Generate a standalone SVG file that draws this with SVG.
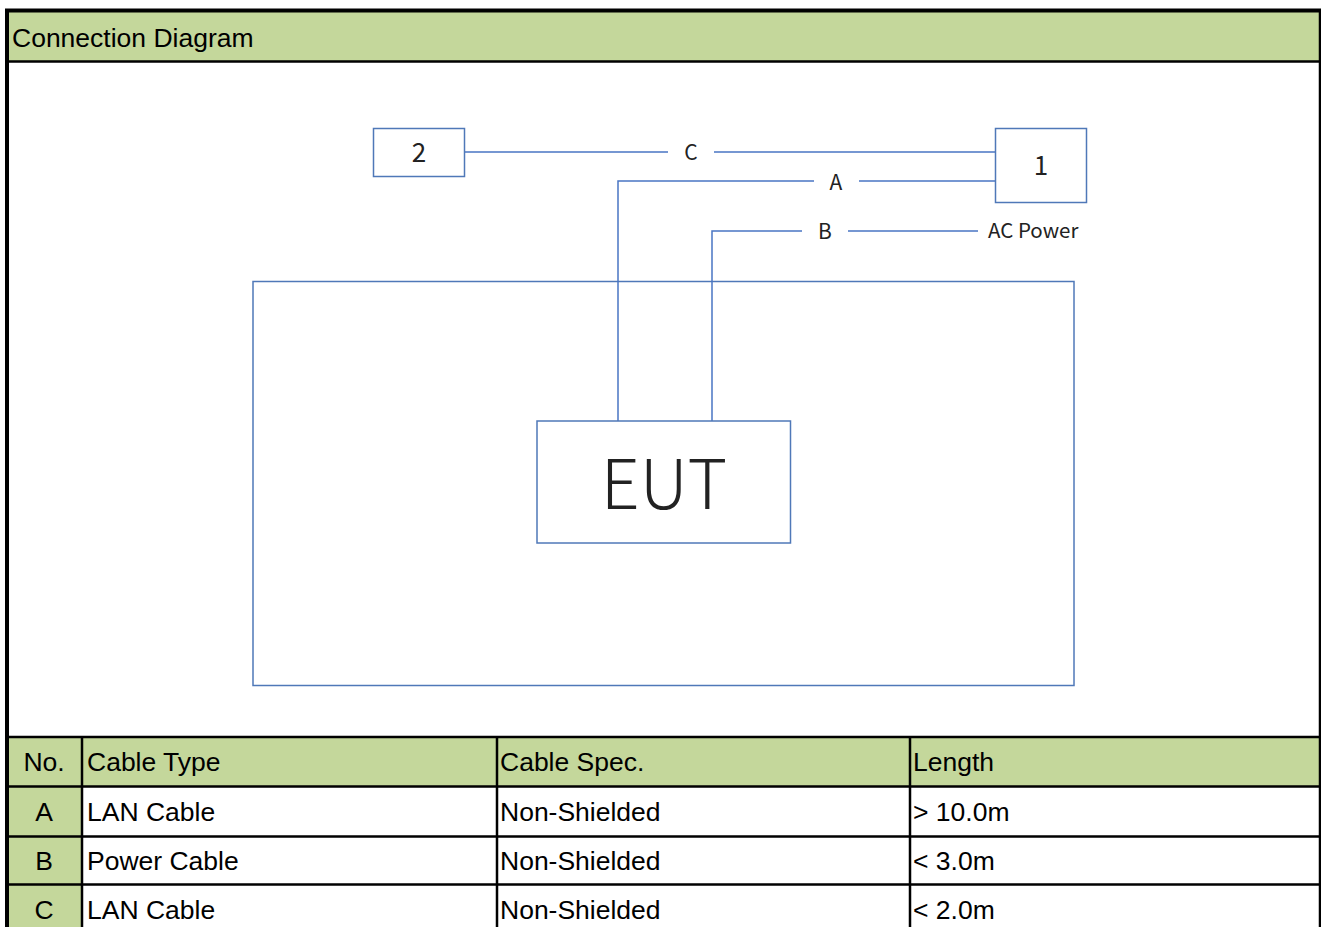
<svg xmlns="http://www.w3.org/2000/svg" width="1321" height="927" viewBox="0 0 1321 927">
<style>
.t{font-family:"Liberation Sans",Arial,sans-serif;font-size:26.5px;fill:#000}
.d{font-family:"Noto Sans CJK SC","Noto Sans",sans-serif;fill:#222}
.box{fill:#fff;stroke:#4f78b8;stroke-width:1.5}
.ln{fill:none;stroke:#4a76c4;stroke-width:1.5}
.g{fill:#c4d79b}
.b{stroke:#000;stroke-width:2.5;fill:none}
</style>
<rect x="0" y="0" width="1321" height="927" fill="#fff"/>
<g id="header">
<rect class="g" x="9" y="12" width="1311" height="49"/>
<text class="t" x="12" y="47">Connection Diagram</text>
</g>
<g id="table">
<rect class="g" x="9" y="738" width="1311" height="48"/>
<rect class="g" x="9" y="786" width="72" height="141"/>
<text class="t" x="44" y="771" text-anchor="middle">No.</text>
<text class="t" x="87" y="771">Cable Type</text>
<text class="t" x="500" y="771">Cable Spec.</text>
<text class="t" x="913" y="771">Length</text>
<text class="t" x="44" y="821" text-anchor="middle">A</text>
<text class="t" x="87" y="821">LAN Cable</text>
<text class="t" x="500" y="821">Non-Shielded</text>
<text class="t" x="913" y="821">&gt; 10.0m</text>
<text class="t" x="44" y="870" text-anchor="middle">B</text>
<text class="t" x="87" y="870">Power Cable</text>
<text class="t" x="500" y="870">Non-Shielded</text>
<text class="t" x="913" y="870">&lt; 3.0m</text>
<text class="t" x="44" y="919" text-anchor="middle">C</text>
<text class="t" x="87" y="919">LAN Cable</text>
<text class="t" x="500" y="919">Non-Shielded</text>
<text class="t" x="913" y="919">&lt; 2.0m</text>
<path class="b" d="M9 737H1320M9 786.5H1320M9 836.5H1320M9 884.5H1320M82 737V927M497 737V927M910 737V927"/>
</g>
<g id="frame">
<path d="M7 927V10.5H1321" fill="none" stroke="#000" stroke-width="4"/>
<path d="M1320 10V927" stroke="#000" stroke-width="2.5"/>
<path d="M9 61.5H1320" stroke="#000" stroke-width="2.5"/>
</g>
<g id="area"><rect class="box" x="253" y="281.5" width="821" height="404"/></g>
<g id="connectors">
<path class="ln" d="M464 152H668M714 152H995"/>
<path class="ln" d="M618 421V181H814M859 181H995"/>
<path class="ln" d="M712 421V231H802M848 231H978"/>
<text class="d" x="691" y="160" font-size="21" text-anchor="middle">C</text>
<text class="d" x="836" y="190" font-size="21" text-anchor="middle">A</text>
<text class="d" x="825" y="239" font-size="21" text-anchor="middle">B</text>
<text class="d" x="988" y="238" font-size="20.5">AC Power</text>
</g>
<g id="node2"><rect class="box" x="373.5" y="128.5" width="91" height="48"/><text class="d" x="419" y="162" font-size="26" text-anchor="middle">2</text></g>
<g id="node1"><rect class="box" x="995.5" y="128.5" width="91" height="74"/><text class="d" x="1041" y="175" font-size="26" text-anchor="middle">1</text></g>
<g id="eut"><rect class="box" x="537" y="421" width="253.5" height="122"/><text class="d" x="664" y="509" font-size="68" font-weight="300" text-anchor="middle" fill="#000">EUT</text></g>
</svg>
